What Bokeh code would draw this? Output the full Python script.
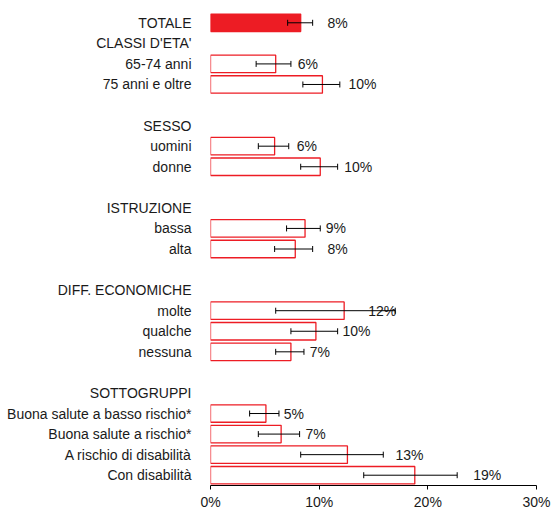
from bokeh.plotting import figure
from bokeh.models import (Range1d, FixedTicker, Whisker, TeeHead, ColumnDataSource,
                          PrintfTickFormatter)
from bokeh.core.properties import value
from bokeh.embed import file_html
from bokeh.resources import INLINE

# Row layout (top to bottom); empty strings are spacer rows
row_labels = ["TOTALE", "CLASSI D'ETA'", "65-74 anni", "75 anni e oltre", "",
              "SESSO", "uomini", "donne", "",
              "ISTRUZIONE", "bassa", "alta", "",
              "DIFF. ECONOMICHE", "molte", "qualche", "nessuna", "",
              "SOTTOGRUPPI", "Buona salute a basso rischio*", "Buona salute a rischio*",
              "A rischio di disabilità", "Con disabilità"]

bar_categories = ["TOTALE", "65-74 anni", "75 anni e oltre", "uomini", "donne",
                  "bassa", "alta", "molte", "qualche", "nessuna",
                  "Buona salute a basso rischio*", "Buona salute a rischio*",
                  "A rischio di disabilità", "Con disabilità"]
values = [8.3, 6.0, 10.3, 5.9, 10.1, 8.7, 7.8, 12.3, 9.7, 7.4, 5.1, 6.5, 12.6, 18.8]
ci_low = [7.1, 4.2, 8.5, 4.4, 8.3, 7.0, 5.9, 6.0, 7.4, 6.0, 3.6, 4.4, 8.3, 14.1]
ci_high = [9.4, 7.4, 11.9, 7.2, 11.7, 10.1, 9.4, 17.0, 11.7, 8.6, 6.3, 8.2, 15.9, 22.7]
value_labels = ["8%", "6%", "10%", "6%", "10%", "9%", "8%", "12%", "10%", "7%",
                "5%", "7%", "13%", "19%"]
label_anchor = [10.76, 8.03, 12.70, 7.94, 12.30, 10.61, 10.76, 14.51, 12.15, 9.14,
                6.74, 8.75, 17.02, 24.17]
x_ticks = [0, 10, 20, 30]

RED = "#ED1C24"
FONT = "Liberation Sans"

ys = [row_labels.index(c) for c in bar_categories]
fills = [RED if c == "TOTALE" else "white" for c in bar_categories]
src = ColumnDataSource(dict(y=ys, v=values, lo=ci_low, hi=ci_high, lab=value_labels,
                            lx=label_anchor, fill=fills))

p = figure(frame_width=326, frame_height=473,
           min_border_left=210, min_border_top=12, min_border_right=15, min_border_bottom=24,
           x_range=Range1d(0, 30), y_range=Range1d(len(row_labels) - 0.5, -0.5),
           output_backend="svg", toolbar_location=None)

p.hbar(y="y", left=0, right="v", height=0.85, source=src,
       fill_color="fill", line_color=RED, line_width=1.3)

wh = Whisker(source=src, base="y", lower="lo", upper="hi", dimension="width",
             line_color="black", line_width=1, level="annotation",
             lower_head=TeeHead(size=6, line_color="black", line_width=1),
             upper_head=TeeHead(size=6, line_color="black", line_width=1))
p.add_layout(wh)

p.text(x="lx", y="y", text="lab", source=src, text_font=value(FONT),
       text_font_size="14px", text_align="left", text_baseline="middle",
       text_color="#1a1a1a")

# y axis: row labels
tick_rows = [i for i, l in enumerate(row_labels) if l]
p.yaxis.ticker = FixedTicker(ticks=tick_rows)
p.yaxis.major_label_overrides = {i: row_labels[i] for i in tick_rows}
p.yaxis.axis_line_color = None
p.yaxis.major_tick_line_color = None
p.yaxis.minor_tick_line_color = None
p.yaxis.major_label_text_font = FONT
p.yaxis.major_label_text_font_size = "14px"
p.yaxis.major_label_text_color = "#1a1a1a"
p.yaxis.major_label_standoff = 13

# x axis
p.xaxis.ticker = FixedTicker(ticks=x_ticks)
p.xaxis.formatter = PrintfTickFormatter(format="%d%%")
p.xaxis.axis_line_color = "black"
p.xaxis.axis_line_width = 1
p.xaxis.major_tick_line_color = "black"
p.xaxis.major_tick_out = 4
p.xaxis.major_tick_in = 0
p.xaxis.minor_tick_line_color = None
p.xaxis.major_label_text_font = FONT
p.xaxis.major_label_text_font_size = "14px"
p.xaxis.major_label_text_color = "#1a1a1a"
p.xaxis.major_label_standoff = 4

p.grid.visible = False
p.outline_line_color = None
p.background_fill_color = "white"
p.border_fill_color = "white"

open("out.html", "w").write(file_html(p, INLINE))
